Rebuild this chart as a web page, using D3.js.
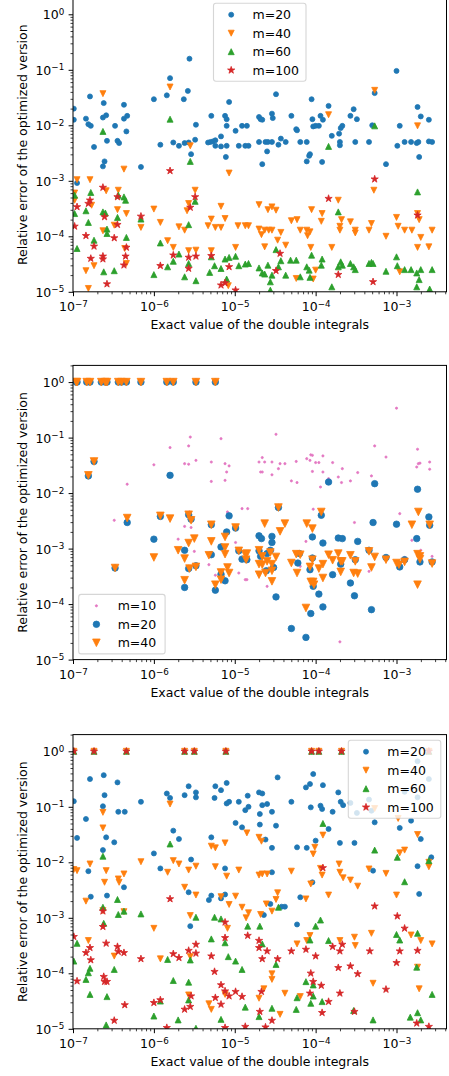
<!DOCTYPE html>
<html>
<head>
<meta charset="utf-8">
<script src="https://cdn.jsdelivr.net/npm/d3@7"></script>
<style>
  body { margin: 0; background: #fff; }
  svg text { font-family: "DejaVu Sans", sans-serif; fill: #000; }
</style>
</head>
<body>
<svg id="fig" width="449" height="1076"></svg>
<script>
// Each point is [log10(exact value of the double integral), log10(relative error)].

// ---- Top panel: m = 20, 40, 60, 100 ----
const p1m20 = [
[-6.99,-1.70],[-6.99,-1.90],[-6.79,-1.48],[-6.84,-1.88],[-6.81,-1.98],[-6.78,-2.01],[-6.74,-2.39],[-6.62,-1.60],[-6.63,-1.86],[-6.59,-1.82],[-6.58,-2.28],[-6.63,-2.74],[-6.61,-2.65],[-6.48,-2.01],[-6.45,-2.28],[-6.43,-2.32],[-6.37,-1.63],[-6.37,-1.88],[-6.33,-1.83],[-6.34,-2.11],[-6.16,-2.75],[-6.00,-1.53],[-5.92,-2.35],[-5.84,-1.46],[-5.80,-1.15],[-5.58,-1.38],[-5.56,-0.80],[-5.63,-1.53],[-5.76,-2.31],[-5.69,-2.37],[-5.62,-2.32],[-5.57,-2.31],[-5.54,-2.52],[-5.49,-2.26],[-5.48,-1.99],[-5.29,-1.83],[-5.33,-2.31],[-5.30,-2.30],[-5.27,-2.29],[-5.24,-2.27],[-5.24,-2.37],[-5.17,-2.20],[-5.17,-2.38],[-5.12,-1.83],[-5.10,-1.89],[-5.10,-2.01],[-5.11,-2.57],[-5.10,-2.37],[-5.07,-1.58],[-4.99,-2.10],[-4.95,-2.37],[-4.91,-2.01],[-4.85,-2.01],[-4.87,-2.37],[-4.83,-2.37],[-6.95,-3.04],
[-4.49,-1.44],[-3.00,-1.02],[-3.27,-1.42],[-4.05,-1.53],[-3.84,-1.65],[-3.53,-1.71],[-4.70,-1.85],[-4.68,-1.89],[-4.66,-1.90],[-4.54,-1.79],[-4.53,-1.87],[-4.30,-1.83],[-4.04,-1.89],[-3.94,-1.83],[-3.91,-1.90],[-4.03,-2.02],[-4.00,-2.01],[-3.96,-2.01],[-4.24,-2.07],[-4.23,-2.09],[-3.67,-2.01],[-3.69,-2.05],[-3.71,-2.15],[-3.80,-2.19],[-3.57,-1.83],[-3.49,-1.89],[-3.30,-2.00],[-2.96,-2.01],[-2.70,-1.84],[-2.74,-1.67],[-2.60,-1.90],[-4.70,-2.30],[-4.62,-2.30],[-4.59,-2.30],[-4.54,-2.30],[-4.43,-2.24],[-4.46,-2.35],[-4.37,-2.30],[-4.19,-2.30],[-4.11,-2.30],[-4.07,-2.52],[-4.08,-2.55],[-4.11,-2.65],[-3.92,-2.66],[-3.70,-2.30],[-3.70,-2.36],[-3.51,-2.30],[-3.34,-2.30],[-4.60,-2.47],[-4.66,-2.70],[-3.13,-2.70],[-2.99,-2.37],[-2.90,-2.30],[-2.82,-2.30],[-2.75,-2.32],[-2.73,-2.30],[-2.72,-2.57],[-2.60,-2.29],[-2.56,-2.30]
];
const p1m40 = [
[-6.63,-1.43],[-5.80,-1.31],[-6.95,-2.98],[-6.79,-2.98],[-6.98,-3.22],[-6.77,-3.44],[-6.59,-3.18],[-6.44,-3.17],[-6.37,-2.79],[-6.34,-3.59],[-6.45,-3.52],[-6.49,-3.80],[-6.63,-3.90],[-6.84,-4.62],[-6.74,-4.53],[-6.81,-4.94],[-6.16,-3.84],[-6.00,-3.51],[-5.92,-3.75],[-5.83,-4.08],[-5.76,-4.20],[-5.69,-3.83],[-5.62,-3.89],[-5.57,-3.41],[-5.49,-3.17],[-5.55,-2.37],[-5.59,-3.54],[-5.48,-4.25],[-5.57,-4.26],[-5.33,-3.81],[-5.29,-3.69],[-5.24,-3.84],[-5.17,-3.84],[-5.17,-3.46],[-5.12,-3.68],[-5.07,-2.86],[-4.99,-4.20],[-4.96,-3.81],[-4.87,-3.81],[-4.83,-3.81],[-5.29,-4.26],[-5.08,-4.89],[-6.36,-4.22],[-6.34,-4.49],[-6.98,-3.35],
[-3.27,-1.37],[-3.84,-1.81],[-2.74,-2.01],[-3.28,-3.17],[-3.72,-3.35],[-4.70,-3.43],[-4.59,-3.52],[-4.54,-3.47],[-4.49,-3.53],[-4.05,-3.52],[-3.92,-3.59],[-4.30,-3.72],[-4.23,-3.70],[-3.93,-3.73],[-3.68,-3.70],[-3.57,-3.74],[-3.31,-3.77],[-4.70,-3.87],[-4.67,-3.97],[-4.63,-3.89],[-4.58,-3.89],[-4.54,-3.89],[-4.43,-3.93],[-4.47,-4.07],[-4.37,-4.16],[-4.63,-4.19],[-4.19,-3.89],[-4.11,-3.89],[-4.10,-3.99],[-4.07,-3.92],[-4.06,-4.20],[-3.80,-4.20],[-3.70,-3.82],[-3.70,-3.89],[-3.51,-3.89],[-3.51,-3.94],[-3.34,-3.89],[-3.13,-4.00],[-3.00,-3.66],[-2.98,-3.82],[-2.90,-3.89],[-2.81,-3.89],[-2.74,-3.59],[-2.72,-3.70],[-2.70,-4.02],[-2.74,-4.20],[-2.60,-4.19],[-2.56,-3.89],[-4.00,-4.61],[-4.24,-4.76],[-4.03,-4.77],[-2.96,-4.64]
];
const p1m60 = [
[-6.63,-2.11],[-5.80,-1.89],[-5.55,-2.65],[-6.98,-3.26],[-6.78,-3.21],[-6.84,-3.54],[-6.81,-3.75],[-6.63,-3.56],[-6.60,-3.58],[-6.58,-3.87],[-6.58,-3.95],[-6.45,-3.66],[-6.37,-3.29],[-6.35,-3.35],[-6.74,-4.07],[-6.95,-4.22],[-6.62,-4.64],[-6.49,-4.62],[-6.34,-4.02],[-6.16,-3.69],[-6.00,-4.69],[-5.92,-4.12],[-5.83,-4.55],[-5.76,-4.45],[-5.69,-4.32],[-5.62,-4.73],[-5.57,-4.49],[-5.57,-3.79],[-5.49,-3.37],[-5.48,-4.80],[-5.31,-4.65],[-5.29,-4.37],[-5.25,-4.53],[-5.17,-4.58],[-5.12,-4.41],[-5.07,-4.38],[-4.99,-4.36],[-5.10,-4.77],[-4.95,-4.53],[-4.87,-4.50],[-4.83,-4.49],[-6.44,-3.26],[-6.98,-3.59],
[-3.84,-2.38],[-3.27,-2.01],[-2.74,-3.20],[-3.72,-3.56],[-4.70,-4.57],[-4.66,-4.66],[-4.63,-4.68],[-4.59,-4.52],[-4.56,-4.82],[-4.54,-4.70],[-4.49,-4.24],[-4.46,-4.55],[-4.43,-4.44],[-4.37,-4.70],[-4.31,-4.43],[-4.24,-4.43],[-4.19,-4.73],[-4.11,-4.55],[-4.08,-4.61],[-4.07,-4.74],[-4.05,-4.34],[-3.93,-4.52],[-3.92,-4.41],[-3.80,-4.91],[-3.72,-4.55],[-3.69,-4.46],[-3.67,-4.52],[-3.57,-4.49],[-3.53,-4.55],[-3.51,-4.60],[-3.34,-4.49],[-3.31,-4.47],[-3.29,-4.49],[-3.13,-4.63],[-3.00,-4.37],[-2.99,-4.53],[-2.90,-4.60],[-2.82,-4.60],[-2.75,-4.66],[-2.72,-4.78],[-2.70,-4.60],[-2.75,-4.91],[-2.59,-4.95],[-2.56,-4.60],[-4.56,-4.97]
];
const p1m100 = [
[-6.63,-3.12],[-6.79,-3.35],[-6.81,-3.41],[-6.95,-3.47],[-6.98,-3.82],[-6.61,-3.65],[-6.45,-3.29],[-6.45,-3.79],[-6.84,-3.99],[-6.74,-4.18],[-6.78,-4.40],[-6.63,-4.36],[-6.63,-4.41],[-6.49,-4.03],[-6.37,-4.52],[-6.35,-4.36],[-6.34,-4.20],[-6.58,-4.86],[-6.16,-3.64],[-5.80,-2.82],[-5.92,-4.53],[-5.76,-4.34],[-5.57,-4.58],[-5.57,-4.38],[-5.55,-3.48],[-5.49,-3.29],[-5.48,-4.36],[-5.29,-4.35],[-5.17,-4.88],[-5.12,-4.84],[-5.07,-4.55],[-4.99,-4.97],
[-3.84,-3.32],[-3.27,-2.97],[-2.74,-3.62],[-4.44,-4.31],[-4.49,-4.62],[-3.72,-4.69],[-3.29,-4.82]
];

// ---- Middle panel: m = 10, 20, 40 ----
const p2m10 = [
[-5.55,-0.99],[-5.17,-1.02],[-5.80,-1.18],[-5.57,-1.15],[-6.00,-1.49],[-5.62,-1.47],[-5.57,-1.48],[-5.48,-1.41],[-5.29,-1.44],[-5.12,-1.47],[-5.07,-1.51],[-5.10,-1.62],[-5.29,-1.79],[-5.12,-1.77],[-6.33,-1.84],[-6.49,-2.49],[-5.92,-2.37],[-5.56,-2.34],[-5.09,-2.34],[-4.91,-2.28],[-4.84,-2.28],[-5.62,-2.60],[-5.54,-2.62],[-5.70,-2.83],[-5.50,-3.05],[-5.32,-3.29],[-5.24,-3.48],[-5.18,-3.41],[-4.95,-3.44],[-4.87,-3.56],[-4.85,-3.56],[-4.99,-2.89],
[-3.00,-0.47],[-4.49,-0.94],[-3.27,-1.15],[-2.74,-1.21],[-3.13,-1.35],[-4.66,-1.36],[-4.70,-1.44],[-4.63,-1.44],[-4.54,-1.44],[-4.44,-1.47],[-4.38,-1.47],[-4.24,-1.43],[-4.11,-1.38],[-4.07,-1.41],[-4.06,-1.31],[-4.04,-1.32],[-4.00,-1.45],[-3.96,-1.45],[-3.91,-1.33],[-3.79,-1.45],[-3.67,-1.56],[-3.48,-1.63],[-3.31,-1.69],[-2.73,-1.47],[-2.71,-1.46],[-2.75,-1.53],[-2.59,-1.44],[-2.59,-1.57],[-4.68,-1.62],[-4.66,-1.62],[-4.54,-1.67],[-4.46,-1.56],[-4.30,-1.78],[-4.23,-1.81],[-4.04,-1.61],[-3.91,-1.62],[-3.84,-1.74],[-3.72,-1.71],[-3.68,-1.81],[-3.57,-1.78],[-3.94,-1.89],[-4.03,-2.29],[-2.96,-2.37],[-3.52,-2.53],[-2.81,-2.85],[-2.70,-3.03],[-2.56,-3.14],[-4.12,-2.87],[-2.90,-3.16],[-3.34,-3.41],[-4.19,-3.32],[-4.60,-3.68],[-3.70,-4.68],[-4.53,-3.03]
];
const p2m20 = [
[-6.96,0],[-6.95,0],[-6.83,0],[-6.79,0],[-6.65,0],[-6.60,0],[-6.58,0],[-6.44,0],[-6.40,0],[-6.34,0],[-6.16,0],[-5.84,0],[-5.76,0],[-5.48,0],[-5.24,0],
[-6.74,-1.43],[-6.81,-1.69],[-5.80,-1.68],[-6.33,-2.53],[-5.92,-2.42],[-6.00,-2.83],[-5.62,-3.03],[-5.57,-3.36],[-5.48,-3.31],[-5.29,-3.11],[-5.07,-2.41],[-5.10,-2.70],[-5.17,-2.97],[-5.12,-3.58],[-5.24,-3.75],[-5.62,-3.70],[-4.99,-2.63],[-4.95,-3.04],[-4.91,-3.19],[-4.85,-3.20],[-6.48,-3.35],[-5.57,-2.39],[-5.54,-2.47],[-5.29,-2.57],[-5.17,-3.46],
[-3.84,-1.80],[-3.27,-1.83],[-2.74,-1.93],[-4.46,-2.26],[-3.93,-2.40],[-3.29,-2.53],[-3.00,-2.56],[-2.60,-2.43],[-2.59,-2.58],[-4.70,-2.77],[-4.67,-2.82],[-4.54,-2.78],[-4.54,-2.89],[-4.04,-2.79],[-3.91,-2.90],[-3.72,-2.81],[-3.67,-2.82],[-3.48,-2.87],[-2.75,-2.82],[-4.70,-3.04],[-4.60,-3.09],[-4.56,-3.03],[-4.68,-3.14],[-4.20,-3.09],[-4.22,-3.26],[-4.04,-3.17],[-4.07,-3.38],[-4.61,-3.40],[-4.52,-3.34],[-4.49,-3.87],[-3.96,-3.82],[-3.91,-4.05],[-4.06,-4.17],[-4.30,-4.44],[-4.12,-4.60],[-3.79,-3.47],[-3.57,-3.62],[-3.52,-3.85],[-3.31,-4.10],[-3.34,-3.03],[-3.13,-3.16],[-2.96,-3.33],[-2.90,-3.20],[-2.71,-3.24],[-2.56,-3.24],[-3.69,-3.28],[-3.51,-3.20],[-4.03,-3.68]
];
const p2m40 = [
[-6.96,0],[-6.95,0],[-6.83,0],[-6.79,0],[-6.65,0],[-6.60,0],[-6.58,0],[-6.44,0],[-6.40,0],[-6.34,0],[-6.16,0],[-5.84,0],[-5.76,0],[-5.48,0],[-5.24,0],
[-6.74,-1.43],[-6.81,-1.68],[-6.33,-2.45],[-5.92,-2.41],[-5.80,-2.46],[-6.00,-3.16],[-6.48,-3.35],[-5.57,-2.39],[-5.54,-2.49],[-5.29,-2.57],[-4.99,-2.62],[-5.12,-2.79],[-5.57,-2.90],[-5.50,-2.82],[-5.29,-2.87],[-5.70,-3.03],[-5.62,-3.18],[-5.32,-3.12],[-5.12,-2.98],[-5.12,-3.10],[-5.56,-3.36],[-5.48,-3.33],[-5.62,-3.57],[-5.24,-3.65],[-5.17,-3.56],[-5.17,-3.43],[-5.09,-3.34],[-5.07,-3.44],[-4.95,-3.04],[-4.87,-3.10],[-4.85,-3.09],[-4.86,-3.20],
[-4.46,-2.26],[-3.93,-2.34],[-2.73,-2.34],[-4.63,-2.55],[-4.38,-2.55],[-4.11,-2.55],[-4.04,-2.64],[-4.44,-2.69],[-2.81,-2.57],[-2.59,-2.57],[-4.70,-3.03],[-4.66,-3.14],[-4.56,-3.07],[-4.49,-3.15],[-4.70,-3.28],[-4.66,-3.29],[-4.60,-3.23],[-4.54,-3.28],[-4.54,-3.40],[-4.62,-3.44],[-4.70,-3.47],[-4.54,-3.59],[-4.30,-3.26],[-4.24,-3.10],[-4.19,-3.11],[-4.23,-3.44],[-4.07,-3.33],[-4.04,-3.20],[-3.91,-3.28],[-3.96,-3.36],[-3.91,-3.53],[-4.06,-3.60],[-4.03,-3.60],[-4.02,-3.65],[-4.12,-4.07],[-3.84,-3.11],[-3.79,-3.21],[-3.72,-3.09],[-3.69,-3.23],[-3.67,-3.23],[-3.69,-3.42],[-3.57,-3.12],[-3.51,-3.23],[-3.53,-3.44],[-3.48,-3.45],[-3.34,-3.05],[-3.31,-3.34],[-3.27,-3.15],[-3.13,-3.20],[-3.00,-3.26],[-2.97,-3.29],[-2.90,-3.24],[-2.74,-3.10],[-2.71,-3.14],[-2.71,-3.19],[-2.56,-3.27],[-2.74,-3.65]
];

// ---- Bottom panel: m = 20, 40, 60, 100 ----
const p3m20 = [
[-6.99,-0.90],[-6.79,-0.50],[-6.62,-0.43],[-6.45,-0.56],[-6.61,-0.79],[-6.63,-0.99],[-6.84,-1.22],[-6.95,-1.56],[-6.59,-1.55],[-6.49,-1.64],[-6.63,-1.78],[-6.44,-1.09],[-6.36,-1.09],[-6.16,-0.91],[-5.84,-0.76],[-5.80,-0.84],[-5.76,-1.43],[-5.69,-1.58],[-5.62,-0.79],[-5.57,-0.63],[-5.48,-0.74],[-5.48,-0.83],[-5.25,-0.84],[-5.24,-0.63],[-5.17,-0.70],[-5.10,-0.57],[-5.10,-0.94],[-5.07,-0.91],[-4.95,-0.91],[-4.84,-0.80],[-4.87,-1.06],[-4.83,-1.00],[-4.99,-1.29],[-4.91,-1.37],[-6.00,-1.84],[-5.92,-2.11],[-5.54,-1.95],[-6.81,-2.16],[-6.37,-2.45],[-6.58,-2.60],[-6.78,-2.62],[-5.57,-2.54],[-5.29,-2.60],[-5.32,-2.68],[-5.12,-2.11],[-5.12,-2.58],[-5.17,-2.65],[-5.55,-3.15],[-5.29,-1.55],
[-4.47,-0.47],[-4.03,-0.41],[-4.07,-0.59],[-4.12,-0.65],[-3.91,-0.61],[-4.70,-0.74],[-4.66,-0.76],[-3.72,-0.74],[-4.66,-0.97],[-4.60,-0.95],[-4.69,-1.13],[-4.54,-1.09],[-4.30,-0.91],[-4.06,-1.01],[-3.94,-0.98],[-3.92,-1.04],[-3.79,-1.09],[-3.69,-0.91],[-3.66,-0.97],[-4.69,-1.32],[-4.49,-1.34],[-3.84,-1.40],[-4.00,-1.61],[-4.62,-1.59],[-4.54,-1.74],[-4.23,-1.73],[-4.11,-1.74],[-3.70,-1.65],[-3.52,-1.65],[-3.27,-1.28],[-2.96,-1.38],[-2.70,-1.58],[-2.57,-1.91],[-2.74,-2.07],[-3.29,-2.15],[-4.54,-2.18],[-4.04,-2.36],[-4.19,-2.63],[-2.72,-2.57],[-4.56,-2.75],[-4.38,-2.80],[-4.42,-2.80],[-4.64,-2.95],[-4.23,-3.12],[-2.74,-0.18],[-2.60,-0.50],[-2.90,-0.73],[-2.74,-0.83],[-2.82,-1.25],[-3.34,-0.87],[-3.57,-0.93],[-3.49,-1.11],[-3.31,-1.07]
];
const p3m40 = [
[-6.99,0],[-6.74,0],[-6.34,0],[-5.62,0],[-5.50,0],[-5.11,0],[-4.05,0],[-3.96,0],[-3.68,0],[-2.60,0],
[-6.63,-1.10],[-6.63,-1.38],[-5.80,-0.95],[-6.99,-2.13],[-6.95,-2.15],[-6.79,-2.03],[-6.59,-2.15],[-6.61,-2.36],[-6.44,-2.30],[-6.43,-2.36],[-6.37,-2.21],[-6.16,-1.99],[-5.83,-2.18],[-5.76,-1.97],[-5.69,-2.03],[-5.57,-2.14],[-5.48,-2.07],[-5.24,-2.08],[-5.10,-2.25],[-4.95,-2.14],[-5.12,-1.65],[-5.29,-1.71],[-5.24,-1.74],[-4.85,-1.47],[-6.84,-2.70],[-6.37,-2.89],[-6.63,-2.87],[-5.62,-2.45],[-5.55,-2.96],[-5.48,-2.59],[-5.17,-2.62],[-4.99,-2.61],[-5.07,-2.76],[-4.91,-2.81],[-4.86,-3.00],[-4.83,-2.91],[-5.09,-3.19],[-6.81,-3.41],[-6.49,-3.69],[-6.00,-3.19],[-5.92,-3.74],[-5.55,-3.70],[-5.57,-4.39],[-5.32,-4.55],[-5.29,-4.65],[-5.12,-4.38],
[-4.70,-1.55],[-4.67,-1.62],[-4.03,-1.85],[-4.01,-1.73],[-3.91,-1.51],[-3.71,-2.03],[-4.70,-2.23],[-4.66,-2.21],[-4.60,-2.21],[-4.30,-2.16],[-3.94,-2.11],[-3.92,-2.23],[-3.70,-2.18],[-3.66,-2.28],[-3.57,-2.32],[-3.48,-2.43],[-3.34,-2.12],[-3.13,-2.20],[-4.06,-2.39],[-3.84,-2.59],[-4.47,-2.55],[-4.49,-2.67],[-4.61,-2.75],[-4.54,-2.88],[-4.68,-2.94],[-4.12,-2.66],[-3.00,-2.59],[-2.96,-1.83],[-2.90,-1.78],[-2.74,-1.50],[-2.60,-2.00],[-2.60,-2.08],[-4.07,-3.32],[-4.23,-3.47],[-4.11,-3.41],[-3.70,-3.41],[-3.52,-3.35],[-3.51,-3.50],[-3.31,-3.28],[-2.82,-3.31],[-2.70,-3.41],[-2.56,-3.47],[-4.54,-4.01],[-4.54,-4.11],[-4.64,-4.28],[-4.70,-4.45],[-4.38,-4.36],[-4.19,-4.42],[-3.29,-4.18],[-2.72,-4.28],[-4.44,-4.74],[-2.74,-3.89],[-3.27,-1.03],[-2.98,-1.21]
];
const p3m60 = [
[-6.99,0],[-6.74,0],[-6.34,0],[-5.62,0],[-5.50,0],[-5.11,0],[-4.05,0],[-3.96,0],[-3.68,0],[-2.60,0],
[-5.80,-1.67],[-6.63,-1.89],[-6.63,-2.81],[-6.45,-2.67],[-6.44,-2.94],[-6.37,-2.88],[-6.16,-2.93],[-5.48,-2.99],[-5.25,-2.99],[-5.17,-3.02],[-4.84,-3.15],[-6.62,-3.10],[-6.95,-3.46],[-6.99,-3.78],[-6.79,-3.91],[-6.81,-3.99],[-6.84,-4.11],[-6.49,-3.93],[-6.79,-4.38],[-6.58,-4.42],[-5.83,-3.75],[-5.55,-3.76],[-5.12,-3.45],[-5.29,-3.38],[-5.08,-3.70],[-4.99,-3.78],[-4.91,-3.93],[-5.76,-4.13],[-5.57,-4.16],[-5.57,-4.48],[-6.00,-4.77],[-5.70,-4.84],[-6.59,-4.93],[-5.48,-4.99],[-5.17,-4.83],[-4.87,-4.61],[-5.92,-4.50],
[-3.91,-1.30],[-3.27,-1.78],[-2.99,-1.91],[-2.60,-1.97],[-2.90,-2.35],[-4.46,-2.81],[-3.94,-3.04],[-4.00,-3.15],[-4.69,-3.15],[-4.66,-3.47],[-4.07,-3.40],[-3.84,-3.41],[-3.00,-3.30],[-2.96,-3.40],[-2.74,-3.28],[-4.49,-3.84],[-2.75,-3.89],[-4.12,-4.15],[-4.03,-4.41],[-4.23,-4.44],[-4.06,-4.54],[-3.92,-4.51],[-4.24,-4.65],[-4.54,-4.63],[-4.70,-4.78],[-3.53,-4.67],[-3.29,-4.84],[-2.83,-4.79],[-2.74,-4.71],[-2.70,-4.84],[-2.56,-4.38],[-4.03,-4.21]
];
const p3m100 = [
[-6.99,0],[-6.74,0],[-6.34,0],[-5.62,0],[-5.50,0],[-5.11,0],[-4.05,0],[-3.96,0],[-3.68,0],[-2.60,0],
[-5.80,-2.66],[-6.63,-2.88],[-6.63,-3.16],[-5.12,-3.08],[-4.84,-3.32],[-5.12,-3.36],[-6.59,-3.46],[-6.79,-3.54],[-6.84,-3.63],[-6.45,-3.52],[-6.44,-3.61],[-6.37,-3.63],[-6.99,-3.34],[-6.78,-3.76],[-6.16,-3.74],[-5.76,-3.65],[-5.69,-3.72],[-5.57,-3.59],[-5.48,-3.64],[-5.48,-3.48],[-5.29,-3.69],[-5.25,-3.97],[-5.17,-4.21],[-5.24,-4.44],[-5.17,-4.56],[-5.12,-4.32],[-5.07,-4.41],[-4.99,-4.33],[-4.91,-4.42],[-6.95,-4.14],[-6.62,-4.06],[-6.61,-4.15],[-6.58,-4.15],[-6.49,-4.85],[-6.36,-4.57],[-6.00,-4.53],[-5.92,-4.48],[-5.62,-4.65],[-5.55,-4.60],[-5.54,-4.41],[-5.84,-4.98],[-5.12,-4.98],[-4.87,-4.96],
[-3.91,-2.10],[-3.27,-2.79],[-2.99,-2.97],[-2.90,-3.19],[-4.70,-3.41],[-4.70,-3.54],[-4.60,-3.60],[-4.66,-3.74],[-4.47,-3.74],[-4.30,-3.60],[-4.12,-3.57],[-4.00,-3.69],[-3.79,-3.52],[-3.67,-3.48],[-3.70,-3.60],[-3.33,-3.60],[-2.96,-3.60],[-2.74,-3.59],[-3.00,-3.81],[-3.72,-3.90],[-3.57,-3.87],[-3.48,-4.01],[-4.06,-4.00],[-4.03,-4.15],[-3.93,-4.22],[-4.07,-4.36],[-3.70,-4.36],[-3.13,-4.29],[-4.67,-4.33],[-4.69,-4.69],[-3.84,-4.51],[-3.92,-4.71],[-3.52,-4.69],[-4.54,-4.85],[-4.62,-4.97],[-2.75,-4.90],[-2.60,-4.96]
];

// Axis tick exponents and labels
const xTickExps = [-7, -6, -5, -4, -3];
const yTickExps = [0, -1, -2, -3, -4, -5];
const xLabel = "Exact value of the double integrals";
const yLabel = "Relative error of the optimized version";

// ---- Layout ----
const svg = d3.select("#fig");
const plotLeft = 73, plotRight = 446.5, panelH = 294.2;
const panelTops = [-2.4, 365.4, 734.6];
const FS = 12.5;
const C = { blue: "#1f77b4", orange: "#ff7f0e", green: "#2ca02c", red: "#d62728", pink: "#e377c2" };

const x = d3.scaleLog().domain([1e-7, 4.15e-3]).range([plotLeft, plotRight]);

function markerPath(shape, s) {
  if (shape === "v") return `M${-s},${-s}L${s},${-s}L0,${s}Z`;
  if (shape === "^") return `M0,${-s}L${s},${s}L${-s},${s}Z`;
  if (shape === "*") {
    const pts = [];
    for (let k = 0; k < 10; k++) {
      const r = k % 2 === 0 ? s : s * 0.382;
      const a = -Math.PI / 2 + k * Math.PI / 5;
      pts.push([r * Math.cos(a), r * Math.sin(a)]);
    }
    return "M" + pts.map(p => p[0].toFixed(2) + "," + p[1].toFixed(2)).join("L") + "Z";
  }
  return d3.symbol(d3.symbolCircle, Math.PI * s * s)();
}

function drawMarker(g, shape, size, color, cx, cy) {
  g.append("path")
    .attr("d", markerPath(shape, size))
    .attr("transform", `translate(${cx},${cy})`)
    .attr("fill", color)
    .attr("stroke", color)
    .attr("stroke-width", 0.8)
    .attr("stroke-linejoin", "round");
}

const panels = [
  {
    series: [
      { label: "m=20", data: p1m20, color: C.blue, shape: "o", size: 2.5 },
      { label: "m=40", data: p1m40, color: C.orange, shape: "v", size: 3.0 },
      { label: "m=60", data: p1m60, color: C.green, shape: "^", size: 3.0 },
      { label: "m=100", data: p1m100, color: C.red, shape: "*", size: 3.8 }
    ],
    legendLoc: "upper center", legendW: 92.5
  },
  {
    series: [
      { label: "m=10", data: p2m10, color: C.pink, shape: "o", size: 1.1 },
      { label: "m=20", data: p2m20, color: C.blue, shape: "o", size: 3.25 },
      { label: "m=40", data: p2m40, color: C.orange, shape: "v", size: 3.8 }
    ],
    legendLoc: "lower left", legendW: 86.4
  },
  {
    series: [
      { label: "m=20", data: p3m20, color: C.blue, shape: "o", size: 2.5 },
      { label: "m=40", data: p3m40, color: C.orange, shape: "v", size: 3.0 },
      { label: "m=60", data: p3m60, color: C.green, shape: "^", size: 3.0 },
      { label: "m=100", data: p3m100, color: C.red, shape: "*", size: 3.8 }
    ],
    legendLoc: "upper right", legendW: 92.5
  }
];

function minorTicks(domain) {
  const out = [];
  const e0 = Math.floor(Math.log10(domain[0])), e1 = Math.ceil(Math.log10(domain[1]));
  for (let e = e0; e <= e1; e++) {
    for (let k = 2; k <= 9; k++) {
      const v = k * Math.pow(10, e);
      if (v >= domain[0] * 0.9999 && v <= domain[1] * 1.0001) out.push(v);
    }
  }
  return out;
}

function powerLabel(textSel, exps) {
  textSel.each(function(d, i) {
    const t = d3.select(this);
    const e = Math.round(Math.log10(d));
    t.text(null);
    t.append("tspan").text("10");
    t.append("tspan").attr("dy", -4.3).attr("font-size", FS * 0.7)
      .text(e < 0 ? "\u2212" + (-e) : String(e));
  });
}

const defs = svg.append("defs");

panels.forEach((p, i) => {
  const top = panelTops[i], bottom = top + panelH;
  const y = d3.scaleLog().domain([1e-5, 2]).range([bottom, top]);
  const g = svg.append("g");

  // clipping region for the markers
  defs.append("clipPath").attr("id", "plotclip" + i)
    .append("rect").attr("x", plotLeft).attr("y", top)
    .attr("width", plotRight - plotLeft).attr("height", panelH);

  const pts = g.append("g").attr("clip-path", `url(#plotclip${i})`);
  p.series.forEach(s => {
    s.data.forEach(d => {
      drawMarker(pts, s.shape, s.size, s.color, x(Math.pow(10, d[0])), y(Math.pow(10, d[1])));
    });
  });

  // x axis: major and minor ticks
  const xMaj = xTickExps.map(e => Math.pow(10, e));
  const xMinor = minorTicks(x.domain());
  const gxMin = g.append("g").attr("transform", `translate(0,${bottom})`)
    .call(d3.axisBottom(x).tickValues(xMinor).tickSize(2.5).tickFormat(""));
  gxMin.select(".domain").remove();
  gxMin.selectAll("line").attr("stroke-width", 0.75);
  const gx = g.append("g").attr("transform", `translate(0,${bottom})`)
    .call(d3.axisBottom(x).tickValues(xMaj).tickSize(4.4));
  gx.select(".domain").remove();
  gx.attr("font-size", null).attr("font-family", null);
  gx.selectAll("line").attr("stroke-width", 1);
  gx.selectAll("text").attr("y", 19.6).attr("dy", null).attr("font-size", FS);
  powerLabel(gx.selectAll("text"));

  // y axis: major and minor ticks
  const yMaj = yTickExps.map(e => Math.pow(10, e));
  const yMinor = minorTicks(y.domain());
  const gyMin = g.append("g").attr("transform", `translate(${plotLeft},0)`)
    .call(d3.axisLeft(y).tickValues(yMinor).tickSize(2.5).tickFormat(""));
  gyMin.select(".domain").remove();
  gyMin.selectAll("line").attr("stroke-width", 0.75);
  const gy = g.append("g").attr("transform", `translate(${plotLeft},0)`)
    .call(d3.axisLeft(y).tickValues(yMaj).tickSize(4.4));
  gy.select(".domain").remove();
  gy.attr("font-size", null).attr("font-family", null);
  gy.selectAll("line").attr("stroke-width", 1);
  gy.selectAll("text").attr("x", -8.8).attr("dy", null).attr("y", 4.4).attr("font-size", FS);
  powerLabel(gy.selectAll("text"));

  // axes frame
  g.append("rect").attr("x", plotLeft).attr("y", top)
    .attr("width", plotRight - plotLeft).attr("height", panelH)
    .attr("fill", "none").attr("stroke", "#000").attr("stroke-width", 1);

  // axis titles
  g.append("text").attr("x", (plotLeft + plotRight) / 2).attr("y", bottom + 37)
    .attr("text-anchor", "middle").attr("font-size", FS).text(xLabel);
  g.append("text")
    .attr("transform", `translate(27,${(top + bottom) / 2}) rotate(-90)`)
    .attr("text-anchor", "middle").attr("font-size", FS).text(yLabel);

  // legend
  const rowH = 18.5, pad = 5.7;
  const lh = p.series.length * rowH + 4;
  const lw = p.legendW;
  let lx, ly;
  if (p.legendLoc === "upper center") { lx = (plotLeft + plotRight) / 2 - lw / 2; ly = top + pad; }
  else if (p.legendLoc === "lower left") { lx = plotLeft + pad; ly = bottom - pad - lh; }
  else { lx = plotRight - pad - lw; ly = top + pad; }
  const lg = g.append("g");
  lg.append("rect").attr("x", lx).attr("y", ly).attr("width", lw).attr("height", lh)
    .attr("rx", 2.5).attr("fill", "#fff").attr("fill-opacity", 0.8)
    .attr("stroke", "#ccc").attr("stroke-opacity", 0.8).attr("stroke-width", 1.1);
  p.series.forEach((s, k) => {
    const cy = ly + 11.4 + k * rowH;
    drawMarker(lg, s.shape, s.size, s.color, lx + 17.7, cy);
    lg.append("text").attr("x", lx + 39).attr("y", cy + 4.5)
      .attr("font-size", FS).text(s.label);
  });
});
</script>
</body>
</html>
